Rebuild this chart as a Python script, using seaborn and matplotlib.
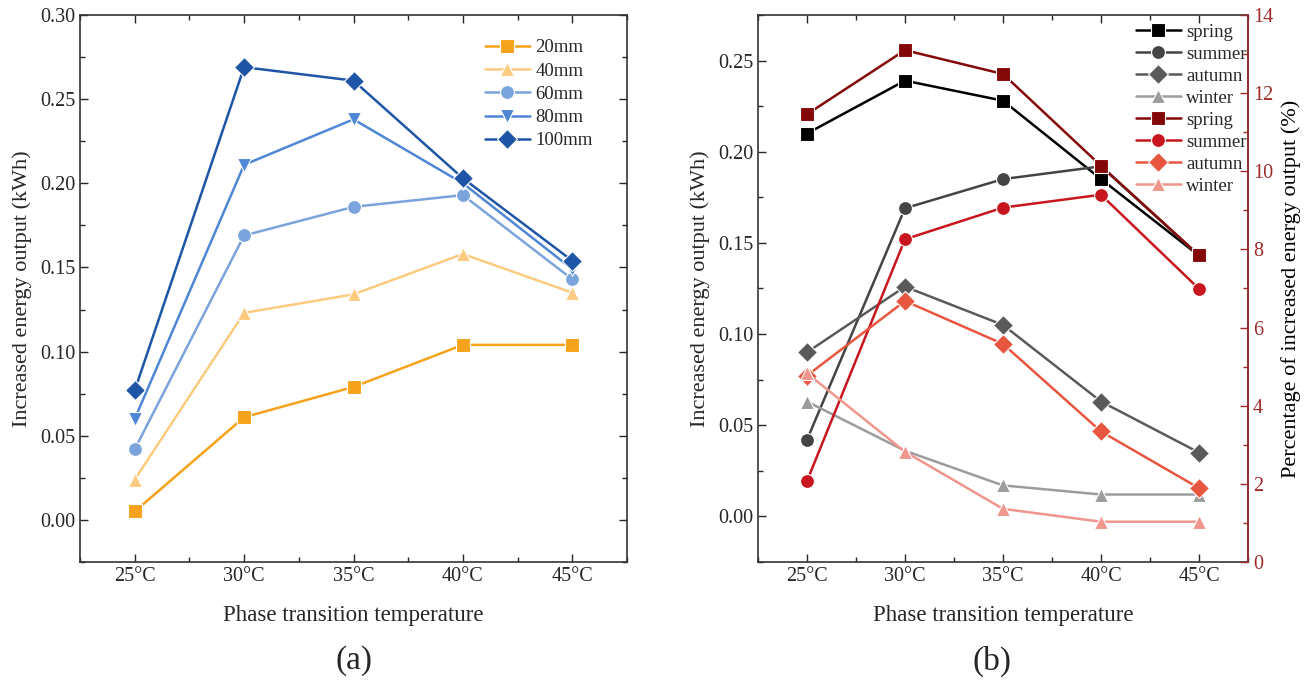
import numpy as np
import pandas as pd
import seaborn as sns
import matplotlib
matplotlib.use("Agg")
import matplotlib.pyplot as plt
from matplotlib.ticker import MultipleLocator

# ---- data ----
temps = [25, 30, 35, 40, 45]
temp_labels = ["25°C", "30°C", "35°C", "40°C", "45°C"]

# panel (a): increased energy output (kWh) by thickness
thick_names = ["20mm", "40mm", "60mm", "80mm", "100mm"]
mm20 = [0.005, 0.061, 0.079, 0.104, 0.104]
mm40 = [0.024, 0.123, 0.134, 0.158, 0.135]
mm60 = [0.042, 0.169, 0.186, 0.193, 0.143]
mm80 = [0.060, 0.211, 0.238, 0.200, 0.149]
mm100 = [0.077, 0.269, 0.261, 0.203, 0.154]

# panel (b): kWh by season (left axis)
seasons = ["spring", "summer", "autumn", "winter"]
kwh_spring = [0.210, 0.239, 0.228, 0.185, 0.143]
kwh_summer = [0.042, 0.169, 0.185, 0.192, 0.143]
kwh_autumn = [0.090, 0.126, 0.105, 0.063, 0.035]
kwh_winter = [0.063, 0.036, 0.017, 0.012, 0.012]

# panel (b): percentage by season (right axis)
pct_spring = [11.46, 13.10, 12.49, 10.14, 7.85]
pct_summer = [2.07, 8.26, 9.07, 9.40, 6.99]
pct_autumn = [4.77, 6.68, 5.58, 3.34, 1.89]
pct_winter = [4.83, 2.82, 1.36, 1.03, 1.03]

sns.set_style("ticks")
plt.rcParams["font.family"] = ["Liberation Serif", "DejaVu Serif"]


def long_df(names, arrays):
    rows = []
    for n, arr in zip(names, arrays):
        for t, v in zip(temps, arr):
            rows.append({"temp": t, "value": v, "series": n})
    return pd.DataFrame(rows)


def style_axis(ax, right_ticks=True):
    ax.set_xlim(22.5, 47.5)
    ax.set_xticks(temps)
    ax.set_xticklabels(temp_labels)
    ax.xaxis.set_minor_locator(MultipleLocator(2.5))
    ax.tick_params(which="both", direction="in", top=True, right=right_ticks,
                   labelsize=14.5, width=1.0)
    ax.tick_params(which="major", length=6)
    ax.tick_params(which="minor", length=3.5)
    for s in ax.spines.values():
        s.set_linewidth(1.2)
        s.set_color("#333333")


fig = plt.figure(figsize=(13.1, 6.85), dpi=100)
ax1 = fig.add_axes([0.0611, 0.1796, 0.4175, 0.7985])
ax2 = fig.add_axes([0.5786, 0.1796, 0.3741, 0.7985])

line_kw = dict(dashes=False, markersize=10, markeredgecolor="white",
               markeredgewidth=0.8, linewidth=1.8, legend=False)

# ---- panel (a) ----
dfa = long_df(thick_names, [mm20, mm40, mm60, mm80, mm100])
pal_a = dict(zip(thick_names, ["#F7A21B", "#FDCB80", "#7BA3DC", "#4F87D6", "#1F55A6"]))
mk_a = dict(zip(thick_names, ["s", "^", "o", "v", "D"]))
sns.lineplot(data=dfa, x="temp", y="value", hue="series", style="series",
             palette=pal_a, markers=mk_a, ax=ax1, **line_kw)
style_axis(ax1)
ax1.set_ylim(-0.025, 0.30)
ax1.yaxis.set_major_locator(MultipleLocator(0.05))
ax1.yaxis.set_minor_locator(MultipleLocator(0.025))
ax1.yaxis.set_major_formatter(matplotlib.ticker.FormatStrFormatter("%.2f"))
ax1.set_xlabel("Phase transition temperature", fontsize=16.5, labelpad=14)
ax1.set_ylabel("Increased energy output (kWh)", fontsize=16, labelpad=6)
ax1.legend(handles=ax1.get_lines(), labels=thick_names, loc="upper left",
           bbox_to_anchor=(0.74, 0.956), frameon=False, fontsize=13.5,
           handlelength=2.4, handletextpad=0.3, labelspacing=0.33,
           borderaxespad=0, borderpad=0)
fig.text(0.270, 0.035, "(a)", ha="center", va="center", fontsize=24)

# ---- panel (b) ----
ax2b = ax2.twinx()
ax2b.set_position(ax2.get_position())
dfb = long_df(seasons, [kwh_spring, kwh_summer, kwh_autumn, kwh_winter])
dfp = long_df(seasons, [pct_spring, pct_summer, pct_autumn, pct_winter])
mk_b = dict(zip(seasons, ["s", "o", "D", "^"]))
pal_grey = dict(zip(seasons, ["#000000", "#444444", "#5A5A5A", "#9C9C9C"]))
pal_red = dict(zip(seasons, ["#850808", "#C8161E", "#E8563F", "#F0968C"]))
sns.lineplot(data=dfb, x="temp", y="value", hue="series", style="series",
             palette=pal_grey, markers=mk_b, ax=ax2, **line_kw)
sns.lineplot(data=dfp, x="temp", y="value", hue="series", style="series",
             palette=pal_red, markers=mk_b, ax=ax2b, **line_kw)
style_axis(ax2, right_ticks=False)
ax2.set_ylim(-0.025, 0.275)
ax2.yaxis.set_major_locator(MultipleLocator(0.05))
ax2.yaxis.set_minor_locator(MultipleLocator(0.025))
ax2.yaxis.set_major_formatter(matplotlib.ticker.FormatStrFormatter("%.2f"))
ax2.set_xlabel("Phase transition temperature", fontsize=16.5, labelpad=14)
ax2.set_ylabel("Increased energy output (kWh)", fontsize=16, labelpad=6)

red = "#9E2A2A"
ax2b.set_xlim(22.5, 47.5)
ax2b.set_ylim(0, 14)
ax2b.yaxis.set_major_locator(MultipleLocator(2))
ax2b.yaxis.set_minor_locator(MultipleLocator(1))
ax2b.tick_params(which="both", direction="in", colors=red, labelsize=14.5, width=1.0)
ax2b.tick_params(which="major", length=6)
ax2b.tick_params(which="minor", length=3.5)
ax2b.spines["right"].set_color(red)
ax2b.spines["right"].set_linewidth(1.2)
for k in ["left", "top", "bottom"]:
    ax2b.spines[k].set_visible(False)
ax2b.set_ylabel("Percentage of increased energy output (%)", fontsize=16,
                labelpad=6, color="black")
ax2b.set_xlabel("")

handles = list(ax2.get_lines()) + list(ax2b.get_lines())
ax2b.legend(handles=handles, labels=seasons + seasons, loc="upper left",
            bbox_to_anchor=(0.771, 0.984), frameon=False, fontsize=13.5,
            handlelength=2.4, handletextpad=0.3, labelspacing=0.26,
            borderaxespad=0, borderpad=0)
fig.text(0.757, 0.035, "(b)", ha="center", va="center", fontsize=24)

fig.savefig("out.png", dpi=100)
